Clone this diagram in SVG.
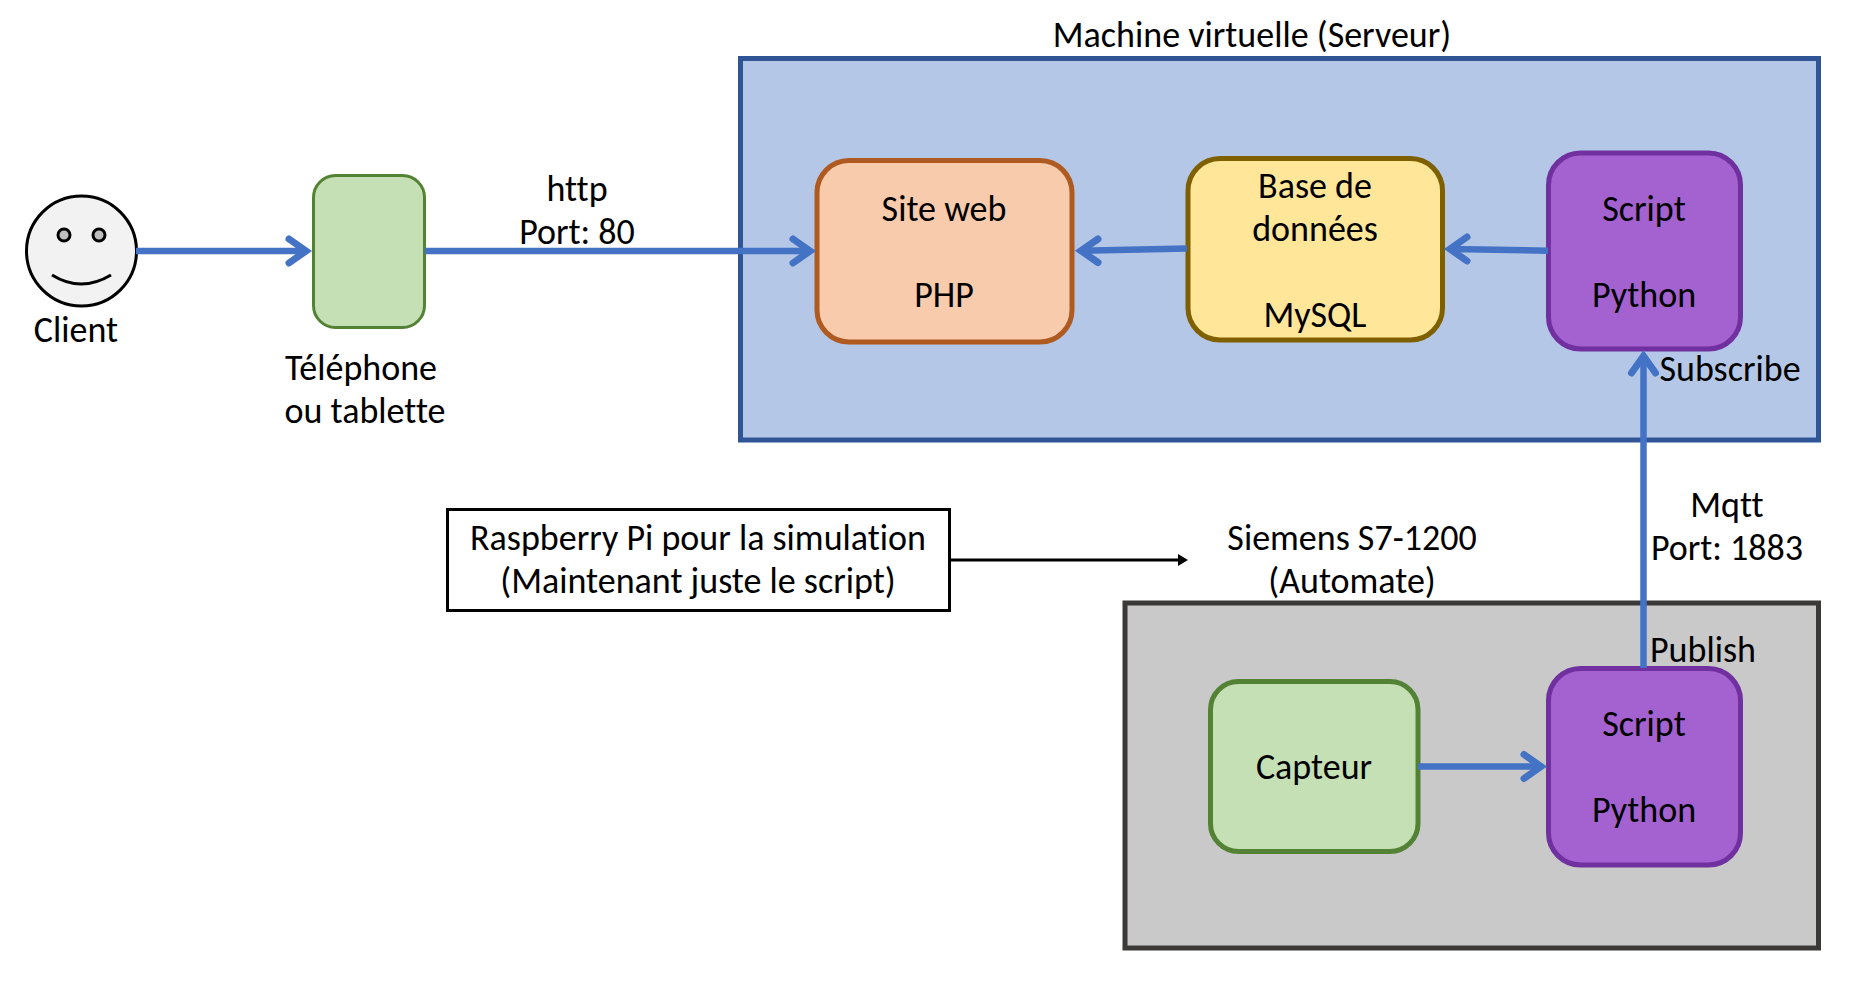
<svg xmlns="http://www.w3.org/2000/svg" width="1851" height="1004" viewBox="0 0 1851 1004">
<style>
text{font-family:Carlito,Lato,"Open Sans",sans-serif;font-size:36px;fill:#000;text-anchor:middle;font-variant-ligatures:none}
.c{fill:none;stroke:#4472C4;stroke-width:6.5}
.h{fill:none;stroke:#4472C4;stroke-width:7;stroke-linecap:round;stroke-linejoin:miter}
.g{fill:#C5E0B4;stroke:#548235}
.p{fill:#A461D0;stroke:#7030A0;stroke-width:5}
</style>
<rect width="1851" height="1004" fill="#fff"/>
<g id="vm"><rect x="740.500" y="58.500" width="1078" height="381.500" fill="#B4C7E7" stroke="#2F5597" stroke-width="5"/><text x="1252" y="47">Machine virtuelle (Serveur)</text></g>
<g id="automate"><rect x="1125" y="603" width="693.500" height="345" fill="#C9C9C9" stroke="#3B3838" stroke-width="5"/><text x="1352" y="550">Siemens S7-1200</text><text x="1352" y="593">(Automate)</text></g>
<g id="client"><circle cx="81.500" cy="251" r="55" fill="#F2F2F2" stroke="#000" stroke-width="3"/><circle cx="64" cy="235" r="6" fill="#BFBFBF" stroke="#000" stroke-width="3"/><circle cx="99" cy="235" r="6" fill="#BFBFBF" stroke="#000" stroke-width="3"/><path d="M52 275Q81 293 111 275" fill="none" stroke="#000" stroke-width="3"/><text x="76" y="342">Client</text></g>
<g id="phone"><rect x="313.500" y="175.500" width="111" height="152" rx="22" class="g" stroke-width="3"/><text x="361" y="380">Téléphone</text><text x="365" y="423">ou tablette</text></g>
<g id="site"><rect x="817" y="160.500" width="255" height="181.500" rx="32" fill="#F8CBAD" stroke="#AE5A21" stroke-width="5"/><text x="944" y="221">Site web</text><text x="944" y="307">PHP</text></g>
<g id="db"><rect x="1188" y="158.500" width="254.500" height="181.500" rx="32" fill="#FFE699" stroke="#7F6000" stroke-width="5"/><text x="1315" y="198">Base de</text><text x="1315" y="241">données</text><text x="1315" y="327">MySQL</text></g>
<g id="script1"><rect x="1548.500" y="153" width="192" height="196" rx="32" class="p"/><text x="1644" y="221">Script</text><text x="1644" y="307">Python</text></g>
<g id="capteur"><rect x="1210.500" y="681.500" width="207.500" height="170" rx="28" class="g" stroke-width="5"/><text x="1314" y="779">Capteur</text></g>
<g id="script2"><rect x="1548.500" y="668.500" width="192" height="196.500" rx="32" class="p"/><text x="1644" y="736">Script</text><text x="1644" y="822">Python</text></g>
<g id="note"><rect x="447.500" y="509.500" width="502" height="101" fill="#fff" stroke="#000" stroke-width="3"/><text x="698" y="550">Raspberry Pi pour la simulation</text><text x="698" y="593">(Maintenant juste le script)</text></g>
<g id="labels"><text x="577" y="201">http</text><text x="577" y="244">Port: 80</text><text x="1730" y="381">Subscribe</text><text x="1727" y="517">Mqtt</text><text x="1727" y="560">Port: 1883</text><text x="1703" y="662">Publish</text></g>
<g id="connectors">
<path class="c" d="M136 251H306"/><path class="h" d="M289 239L306 251L289 263"/>
<path class="c" d="M425 251H809"/><path class="h" d="M793 239L810 251L793 263"/>
<path class="c" d="M1187 248.500L1081 250.700"/><path class="h" d="M1098 239L1081 250.700L1098 262.500"/>
<path class="c" d="M1548 250.700L1450 249"/><path class="h" d="M1467 237L1450 249L1467 261"/>
<path class="c" d="M1418 766.500H1541"/><path class="h" d="M1524 754.500L1541 766.500L1524 778.500"/>
<path class="c" d="M1643.500 668V357"/><path class="h" d="M1631.500 373L1643.500 356L1655.500 373"/>
<path d="M950 560H1178" fill="none" stroke="#000" stroke-width="3"/><path d="M1178 554L1188 560L1178 566Z" fill="#000"/>
</g>
</svg>
